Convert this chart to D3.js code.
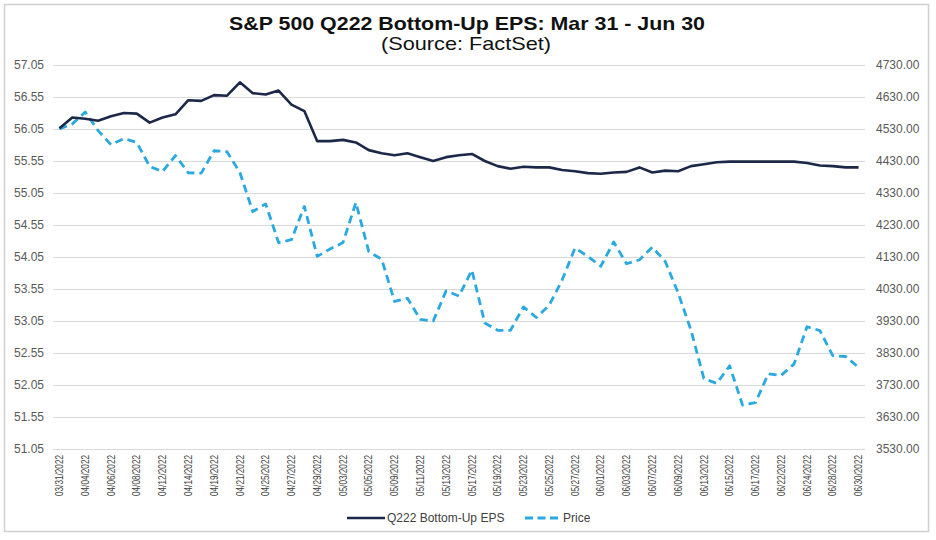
<!DOCTYPE html>
<meta charset="utf-8">
<head>
    <script src="https://d3js.org/d3.v7.min.js"></script>
    <style>
        body { margin: 0; background: #fff; }
        text { font-family: "Liberation Sans", Arial, sans-serif; }
        .grid line { stroke: #d9d9d9; stroke-width: 1px; }
        .tick-label { fill: #595959; font-size: 12px; }
    </style>
</head>
<body>
<script type="text/javascript">

    // trading days shown on the category axis
    var dates = ["03/31/2022", "04/01/2022", "04/04/2022", "04/05/2022", "04/06/2022", "04/07/2022",
        "04/08/2022", "04/11/2022", "04/12/2022", "04/13/2022", "04/14/2022", "04/18/2022",
        "04/19/2022", "04/20/2022", "04/21/2022", "04/22/2022", "04/25/2022", "04/26/2022",
        "04/27/2022", "04/28/2022", "04/29/2022", "05/02/2022", "05/03/2022", "05/04/2022",
        "05/05/2022", "05/06/2022", "05/09/2022", "05/10/2022", "05/11/2022", "05/12/2022",
        "05/13/2022", "05/16/2022", "05/17/2022", "05/18/2022", "05/19/2022", "05/20/2022",
        "05/23/2022", "05/24/2022", "05/25/2022", "05/26/2022", "05/27/2022", "05/31/2022",
        "06/01/2022", "06/02/2022", "06/03/2022", "06/06/2022", "06/07/2022", "06/08/2022",
        "06/09/2022", "06/10/2022", "06/13/2022", "06/14/2022", "06/15/2022", "06/16/2022",
        "06/17/2022", "06/21/2022", "06/22/2022", "06/23/2022", "06/24/2022", "06/27/2022",
        "06/28/2022", "06/29/2022", "06/30/2022"];

    // Q222 bottom-up EPS (left axis)
    var eps = [56.06, 56.23, 56.21, 56.18, 56.25, 56.30, 56.29, 56.15, 56.23, 56.28, 56.50, 56.49,
        56.58, 56.57, 56.78, 56.61, 56.59, 56.65, 56.43, 56.33, 55.86, 55.86, 55.88, 55.84,
        55.72, 55.67, 55.64, 55.67, 55.61, 55.55, 55.61, 55.64, 55.66, 55.55, 55.47, 55.43,
        55.46, 55.45, 55.45, 55.41, 55.39, 55.36, 55.35, 55.37, 55.38, 55.45, 55.37, 55.40,
        55.39, 55.47, 55.50, 55.53, 55.54, 55.54, 55.54, 55.54, 55.54, 55.54, 55.52, 55.48,
        55.47, 55.45, 55.45];

    // S&P 500 price (right axis)
    var price = [4530, 4546, 4583, 4525, 4481, 4500, 4488, 4413, 4397, 4447, 4393, 4392,
        4462, 4459, 4394, 4272, 4296, 4175, 4184, 4288, 4132, 4155, 4175, 4300,
        4147, 4123, 3991, 4001, 3935, 3930, 4024, 4008, 4089, 3924, 3901, 3901,
        3974, 3941, 3979, 4058, 4158, 4132, 4101, 4177, 4109, 4121, 4161, 4116,
        4018, 3901, 3750, 3735, 3790, 3667, 3675, 3765, 3760, 3796, 3912, 3900,
        3822, 3819, 3785];

    var leftTicks = [51.05, 51.55, 52.05, 52.55, 53.05, 53.55, 54.05, 54.55, 55.05, 55.55, 56.05, 56.55, 57.05];
    var rightTicks = [3530, 3630, 3730, 3830, 3930, 4030, 4130, 4230, 4330, 4430, 4530, 4630, 4730];

    var width = 936;
    var height = 540;
    var plot = {left: 53, right: 865, top: 65, bottom: 449};

    var svg = d3.select("body")
        .append("svg")
        .attr("width", width)
        .attr("height", height);

    // outer frame
    svg.append("rect")
        .attr("x", 4.5)
        .attr("y", 4.5)
        .attr("width", 924)
        .attr("height", 527)
        .attr("fill", "none")
        .attr("stroke", "#d0d0d0")
        .attr("stroke-width", 1.5);

    // scales
    var x = d3.scalePoint()
        .domain(dates)
        .range([plot.left, plot.right])
        .padding(0.5);

    var yLeft = d3.scaleLinear()
        .domain([51.05, 57.05])
        .range([plot.bottom, plot.top]);

    var yRight = d3.scaleLinear()
        .domain([3530, 4730])
        .range([plot.bottom, plot.top]);

    // gridlines
    svg.append("g")
        .attr("class", "grid")
        .selectAll("line")
        .data(leftTicks)
        .enter()
        .append("line")
        .attr("x1", plot.left)
        .attr("x2", plot.right)
        .attr("y1", function (d) { return Math.round(yLeft(d)) + 0.5; })
        .attr("y2", function (d) { return Math.round(yLeft(d)) + 0.5; });

    // left axis labels
    svg.append("g")
        .selectAll("text")
        .data(leftTicks)
        .enter()
        .append("text")
        .attr("class", "tick-label")
        .attr("x", 44)
        .attr("y", function (d) { return yLeft(d); })
        .attr("dy", "0.35em")
        .attr("text-anchor", "end")
        .text(function (d) { return d.toFixed(2); });

    // right axis labels
    svg.append("g")
        .selectAll("text")
        .data(rightTicks)
        .enter()
        .append("text")
        .attr("class", "tick-label")
        .attr("x", 876)
        .attr("y", function (d) { return yRight(d); })
        .attr("dy", "0.35em")
        .attr("text-anchor", "start")
        .text(function (d) { return d.toFixed(2); });

    // x labels, every other trading day
    svg.append("g")
        .selectAll("text")
        .data(dates.filter(function (d, i) { return i % 2 === 0; }))
        .enter()
        .append("text")
        .attr("class", "tick-label")
        .style("font-size", "10.5px")
        .style("fill", "#404040")
        .attr("transform", function (d) {
            return "translate(" + x(d) + ",455) rotate(-90)";
        })
        .attr("dy", "0.35em")
        .attr("text-anchor", "end")
        .attr("textLength", 41)
        .attr("lengthAdjust", "spacingAndGlyphs")
        .text(function (d) { return d; });

    // series lines
    var epsLine = d3.line()
        .x(function (d, i) { return x(dates[i]); })
        .y(function (d) { return yLeft(d); });

    var priceLine = d3.line()
        .x(function (d, i) { return x(dates[i]); })
        .y(function (d) { return yRight(d); });

    svg.append("path")
        .datum(price)
        .attr("fill", "none")
        .attr("stroke", "#29a9e1")
        .attr("stroke-width", 2.8)
        .attr("stroke-dasharray", "8,5")
        .attr("stroke-linejoin", "round")
        .attr("d", priceLine);

    svg.append("path")
        .datum(eps)
        .attr("fill", "none")
        .attr("stroke", "#1c2848")
        .attr("stroke-width", 2.6)
        .attr("stroke-linejoin", "round")
        .attr("d", epsLine);

    // title (reference font is a little wider than Liberation Sans)
    svg.append("text")
        .attr("x", 467)
        .attr("y", 30)
        .attr("text-anchor", "middle")
        .attr("font-size", "18.5px")
        .attr("font-weight", "bold")
        .attr("fill", "#111")
        .attr("textLength", 476)
        .attr("lengthAdjust", "spacingAndGlyphs")
        .text("S&P 500 Q222 Bottom-Up EPS: Mar 31 - Jun 30");

    svg.append("text")
        .attr("x", 466)
        .attr("y", 50)
        .attr("text-anchor", "middle")
        .attr("font-size", "18.5px")
        .attr("fill", "#111")
        .attr("textLength", 170)
        .attr("lengthAdjust", "spacingAndGlyphs")
        .text("(Source: FactSet)");

    // legend
    var legend = svg.append("g").attr("transform", "translate(0,518)");
    legend.append("line")
        .attr("x1", 347).attr("x2", 385)
        .attr("stroke", "#1c2848").attr("stroke-width", 2.6);
    legend.append("text")
        .attr("class", "tick-label")
        .attr("x", 387).attr("dy", "0.35em")
        .style("fill", "#404040")
        .text("Q222 Bottom-Up EPS");
    legend.append("line")
        .attr("x1", 525).attr("x2", 558)
        .attr("stroke", "#29a9e1").attr("stroke-width", 2.8)
        .attr("stroke-dasharray", "8,4.5");
    legend.append("text")
        .attr("class", "tick-label")
        .attr("x", 563).attr("dy", "0.35em")
        .style("fill", "#404040")
        .text("Price");

</script>
</body>
</html>
